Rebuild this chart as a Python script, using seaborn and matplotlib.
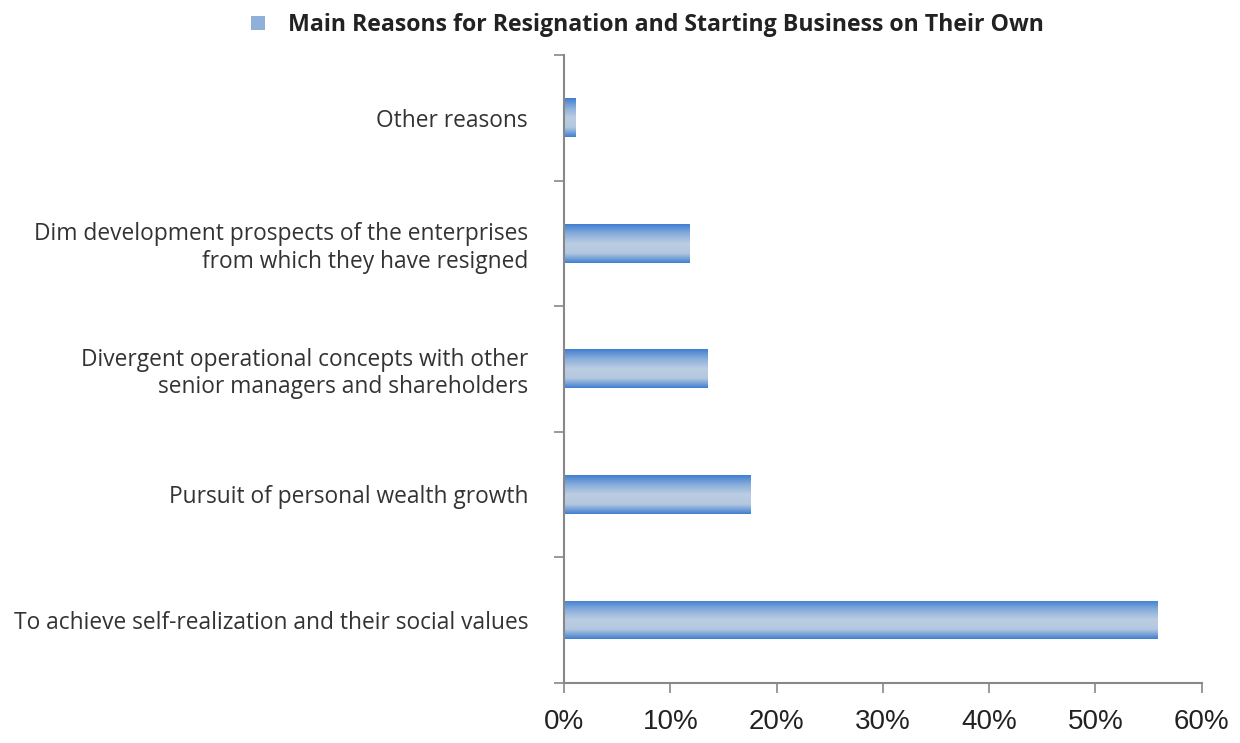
import numpy as np
import pandas as pd
import matplotlib
matplotlib.use("Agg")
import matplotlib.pyplot as plt
import seaborn as sns
from matplotlib.colors import LinearSegmentedColormap
from matplotlib.patches import Patch
from matplotlib.ticker import FixedLocator

categories = [
    "Other reasons",
    "Dim development prospects of the enterprises\nfrom which they have resigned",
    "Divergent operational concepts with other\nsenior managers and shareholders",
    "Pursuit of personal wealth growth",
    "To achieve self-realization and their social values",
]
values = [1.1, 11.8, 13.5, 17.6, 55.9]
x_ticks = [0, 10, 20, 30, 40, 50, 60]
x_tick_labels = ["0%", "10%", "20%", "30%", "40%", "50%", "60%"]
series_name = "Main Reasons for Resignation and Starting Business on Their Own"

sns.set_theme(style="white")
plt.rcParams["font.family"] = ["Open Sans", "DejaVu Sans"]

df = pd.DataFrame({"reason": categories, "pct": values})

fig = plt.figure(figsize=(12.4, 7.43), dpi=100)
ax = fig.add_axes([0.455, 0.081, 0.514, 0.845])

sns.barplot(data=df, y="reason", x="pct", orient="h", ax=ax,
            color="#6f9bd3", width=0.31, order=categories)

cmap = LinearSegmentedColormap.from_list(
    "bargrad", ["#3f7fd0", "#8aaedb", "#bccde2", "#b3c8e0", "#3f7fd0"])
grad = np.linspace(0, 1, 256).reshape(-1, 1)
for p in list(ax.patches):
    x0, y0 = p.get_x(), p.get_y()
    w, h = p.get_width(), p.get_height()
    p.set_edgecolor("none")
    im = ax.imshow(grad, cmap=cmap, aspect="auto",
                   extent=[x0, x0 + w, y0 + h, y0], zorder=p.get_zorder() + 0.1,
                   interpolation="bilinear")
    im.set_clip_path(p)

ax.set_xlim(0, 60)
ax.set_ylim(len(categories) - 0.5, -0.5)
ax.set_xticks(x_ticks)
ax.set_xticklabels(x_tick_labels, fontfamily=["Liberation Sans", "DejaVu Sans"],
                   fontsize=20, color="#222222")
ax.set_xlabel("")
ax.set_ylabel("")
ax.tick_params(axis="y", labelsize=16.4, labelcolor="#333333", length=0, pad=26)
ax.yaxis.set_minor_locator(FixedLocator(np.arange(-0.5, len(categories), 1.0)))
ax.tick_params(axis="y", which="minor", left=True, length=7, color="#888888", width=1.2)
ax.tick_params(axis="x", bottom=True, length=7, color="#888888", width=1.2, pad=12)

for s in ["top", "right"]:
    ax.spines[s].set_visible(False)
for s in ["left", "bottom"]:
    ax.spines[s].set_color("#888888")
    ax.spines[s].set_linewidth(1.5)

handle = Patch(facecolor="#8fb0d8", edgecolor="none")
leg = fig.legend([handle], [series_name], loc="center", bbox_to_anchor=(0.522, 0.966),
                 frameon=False, handlelength=0.6, handleheight=0.6, handletextpad=1.0,
                 prop={"family": ["Open Sans", "DejaVu Sans"], "weight": "bold", "size": 16.7})
for t in leg.get_texts():
    t.set_color("#222222")

fig.savefig("out.png", dpi=100, facecolor="white")
